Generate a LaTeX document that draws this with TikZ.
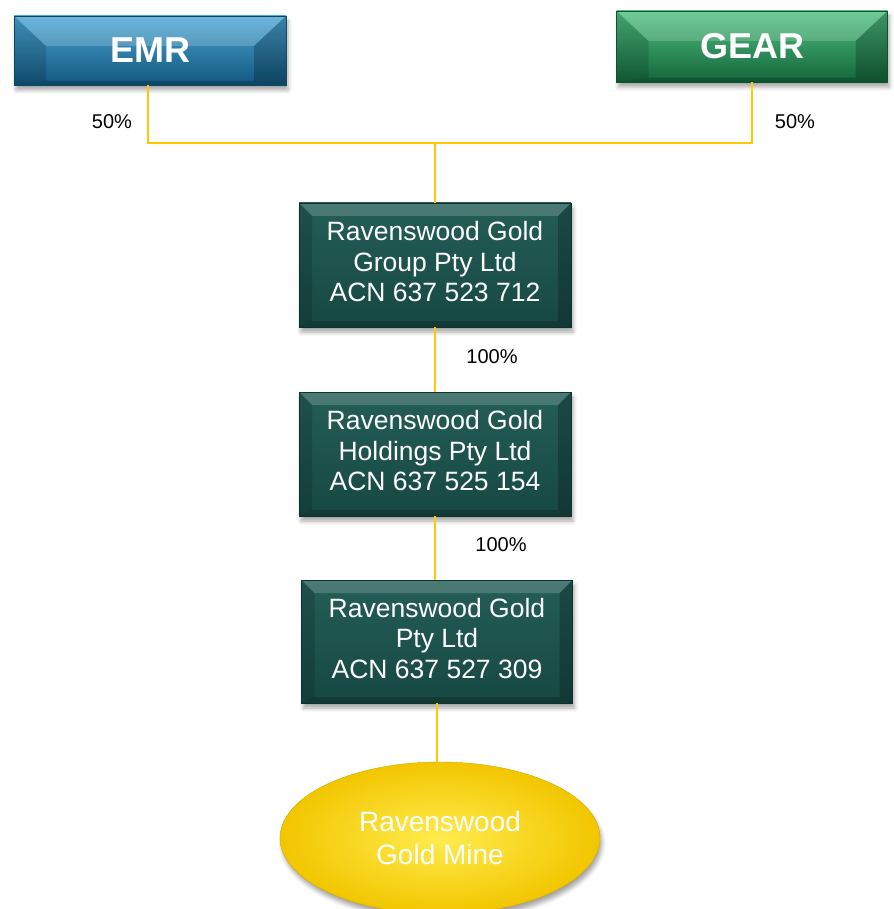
\documentclass[tikz,border=0pt]{standalone}
\usepackage{fontspec}
\setmainfont{Liberation Sans}
\usetikzlibrary{shapes.geometric,shadows.blur}
\definecolor{emrA}{HTML}{4CA6D6}
\definecolor{emrB}{HTML}{18648E}
\definecolor{emrC}{HTML}{11577D}
\definecolor{gearA}{HTML}{50C082}
\definecolor{gearB}{HTML}{197642}
\definecolor{gearC}{HTML}{136639}
\definecolor{tealA}{HTML}{245D57}
\definecolor{tealB}{HTML}{1A504B}
\definecolor{tealC}{HTML}{174843}
\definecolor{lineY}{HTML}{FFC800}
\definecolor{goldIn}{HTML}{FFEC4E}
\definecolor{goldOut}{HTML}{F2C600}
% #1 side width, #2 top depth, #3 bottom depth
\newcommand\bevelpic[3]{%
  \fill[white,opacity=0.18] (path picture bounding box.north west) -- (path picture bounding box.north east)
    -- ([shift={(-#1pt,-#2pt)}]path picture bounding box.north east) -- ([shift={(#1pt,-#2pt)}]path picture bounding box.north west) -- cycle;
  \fill[black,opacity=0.20] (path picture bounding box.south west) -- (path picture bounding box.south east)
    -- ([shift={(-#1pt,#3pt)}]path picture bounding box.south east) -- ([shift={(#1pt,#3pt)}]path picture bounding box.south west) -- cycle;
  \fill[black,opacity=0.14] (path picture bounding box.north west) -- ([shift={(#1pt,-#2pt)}]path picture bounding box.north west)
    -- ([shift={(#1pt,#3pt)}]path picture bounding box.south west) -- (path picture bounding box.south west) -- cycle;
  \fill[black,opacity=0.22] (path picture bounding box.north east) -- ([shift={(-#1pt,-#2pt)}]path picture bounding box.north east)
    -- ([shift={(-#1pt,#3pt)}]path picture bounding box.south east) -- (path picture bounding box.south east) -- cycle;
}
\tikzset{
  shadowed/.style={blur shadow={shadow xshift=2pt, shadow yshift=-5pt, shadow blur radius=4pt, shadow opacity=35}},
  ownerbox/.style={rectangle, inner sep=0pt, text=white, font=\fontsize{36}{40}\selectfont\bfseries, shadowed,
     line width=0.4pt, path picture={\bevelpic{32}{30}{4}}},
  emrbox/.style={ownerbox, top color=emrA, middle color=emrB, bottom color=emrC, draw=emrC!80!black},
  gearbox/.style={ownerbox, top color=gearA, middle color=gearB, bottom color=gearC, draw=gearC!80!black},
  cobox/.style={rectangle, inner sep=0pt, minimum width=272pt, minimum height=124pt, text=white, align=center,
     text depth=7pt, font=\fontsize{26.5}{30.5}\selectfont, top color=tealA, middle color=tealB, bottom color=tealC,
     draw=tealC!70!black, line width=0.4pt, shadowed, path picture={\bevelpic{13}{13}{6}}},
  minebox/.style={ellipse, inner sep=0pt, minimum width=320pt, minimum height=152pt, text=white, align=center,
     font=\fontsize{28}{33}\selectfont, shading=radial, inner color=goldIn, outer color=goldOut,
     draw=goldOut!85!black, line width=0.4pt, shadowed},
  link/.style={draw=lineY, line width=1.2pt},
  pct/.style={font=\fontsize{20}{24}\selectfont, text=black, inner sep=0pt}
}
\begin{document}
\begin{tikzpicture}[x=1pt,y=-1pt]
\useasboundingbox (0,0) rectangle (893,909);
\node[emrbox, minimum width=272pt, minimum height=69pt] (emr) at (150,50.5) {EMR};
\node[gearbox, minimum width=271pt, minimum height=71pt] (gear) at (752,46.5) {GEAR};
\node[cobox] (grp) at (435,265) {Ravenswood Gold\\Group Pty Ltd\\ACN 637 523 712};
\node[cobox] (hold) at (435,454) {Ravenswood Gold\\Holdings Pty Ltd\\ACN 637 525 154};
\node[cobox, minimum width=271pt, minimum height=123pt] (pty) at (437,641.5) {Ravenswood Gold\\Pty Ltd\\ACN 637 527 309};
\node[minebox] (mine) at (440,838) {Ravenswood\\Gold Mine};
\coordinate (j) at (435,143);
\coordinate (emrfoot) at ([xshift=-2pt]emr.south);
\draw[link] (emrfoot) |- (j) -| (gear.south);
\draw[link] (j) -- (grp.north);
\draw[link] (grp.south) -- (hold.north);
\draw[link] (hold.south) -- (hold.south |- pty.north);
\draw[link] (pty.south) -- (pty.south |- mine.north);
\node[pct] (p1) at (112,122) {50\%};
\node[pct] (p2) at (795,122) {50\%};
\node[pct] (p3) at (492,357) {100\%};
\node[pct] (p4) at (501,545) {100\%};
\end{tikzpicture}
\end{document}
